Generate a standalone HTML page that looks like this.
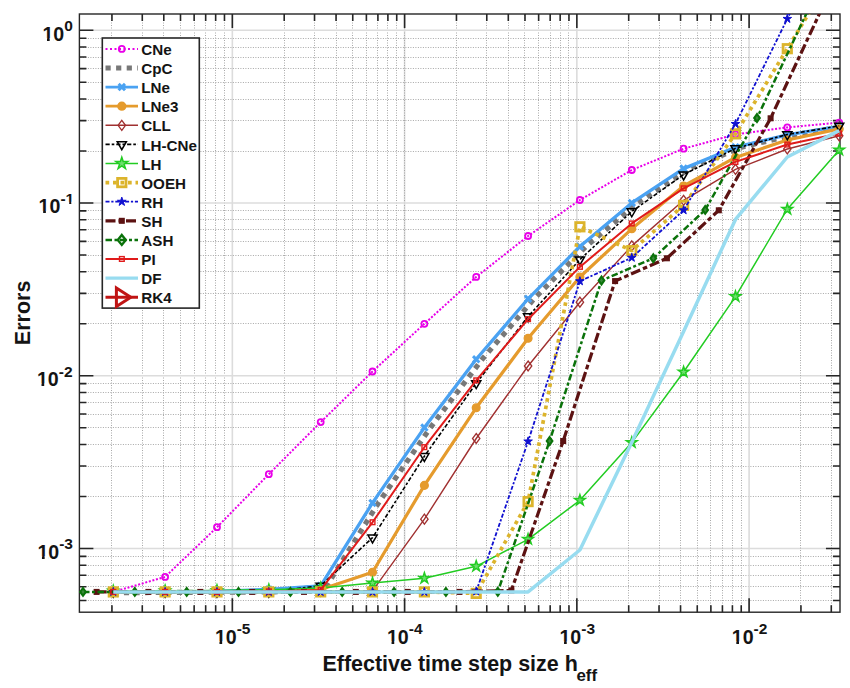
<!DOCTYPE html>
<html><head><meta charset="utf-8"><title>Errors vs effective time step size</title>
<style>
html,body{margin:0;padding:0;background:#fff;}
body{width:850px;height:688px;overflow:hidden;}
svg{display:block;}
text{font-family:"Liberation Sans",sans-serif;font-weight:bold;fill:#141414;}
.tk{font-size:19.6px;}
.sup{font-size:15.5px;}
.lg{font-size:15.2px;}
.al{font-size:21.5px;}
.sub{font-size:15.8px;}
</style></head>
<body>
<svg width="850" height="688" viewBox="0 0 850 688">
<defs><clipPath id="ax"><rect x="79.4" y="14.0" width="760.6" height="598.2"/></clipPath></defs>
<rect width="850" height="688" fill="#fff"/>
<g><line x1="111.50" y1="15.0" x2="111.50" y2="612.2" stroke="#a8a8a8" stroke-width="1" stroke-dasharray="1 1.5"/><line x1="142.50" y1="15.0" x2="142.50" y2="612.2" stroke="#a8a8a8" stroke-width="1" stroke-dasharray="1 1.5"/><line x1="163.50" y1="15.0" x2="163.50" y2="612.2" stroke="#a8a8a8" stroke-width="1" stroke-dasharray="1 1.5"/><line x1="180.50" y1="15.0" x2="180.50" y2="612.2" stroke="#a8a8a8" stroke-width="1" stroke-dasharray="1 1.5"/><line x1="194.50" y1="15.0" x2="194.50" y2="612.2" stroke="#a8a8a8" stroke-width="1" stroke-dasharray="1 1.5"/><line x1="205.50" y1="15.0" x2="205.50" y2="612.2" stroke="#a8a8a8" stroke-width="1" stroke-dasharray="1 1.5"/><line x1="215.50" y1="15.0" x2="215.50" y2="612.2" stroke="#a8a8a8" stroke-width="1" stroke-dasharray="1 1.5"/><line x1="224.50" y1="15.0" x2="224.50" y2="612.2" stroke="#a8a8a8" stroke-width="1" stroke-dasharray="1 1.5"/><line x1="232.35" y1="14.0" x2="232.35" y2="612.2" stroke="#dcdcdc" stroke-width="1.6"/><line x1="284.50" y1="15.0" x2="284.50" y2="612.2" stroke="#a8a8a8" stroke-width="1" stroke-dasharray="1 1.5"/><line x1="314.50" y1="15.0" x2="314.50" y2="612.2" stroke="#a8a8a8" stroke-width="1" stroke-dasharray="1 1.5"/><line x1="336.50" y1="15.0" x2="336.50" y2="612.2" stroke="#a8a8a8" stroke-width="1" stroke-dasharray="1 1.5"/><line x1="352.50" y1="15.0" x2="352.50" y2="612.2" stroke="#a8a8a8" stroke-width="1" stroke-dasharray="1 1.5"/><line x1="366.50" y1="15.0" x2="366.50" y2="612.2" stroke="#a8a8a8" stroke-width="1" stroke-dasharray="1 1.5"/><line x1="377.50" y1="15.0" x2="377.50" y2="612.2" stroke="#a8a8a8" stroke-width="1" stroke-dasharray="1 1.5"/><line x1="387.50" y1="15.0" x2="387.50" y2="612.2" stroke="#a8a8a8" stroke-width="1" stroke-dasharray="1 1.5"/><line x1="396.50" y1="15.0" x2="396.50" y2="612.2" stroke="#a8a8a8" stroke-width="1" stroke-dasharray="1 1.5"/><line x1="404.60" y1="14.0" x2="404.60" y2="612.2" stroke="#dcdcdc" stroke-width="1.6"/><line x1="404.50" y1="15.0" x2="404.50" y2="612.2" stroke="#a8a8a8" stroke-width="1" stroke-dasharray="1 1.5"/><line x1="456.50" y1="15.0" x2="456.50" y2="612.2" stroke="#a8a8a8" stroke-width="1" stroke-dasharray="1 1.5"/><line x1="486.50" y1="15.0" x2="486.50" y2="612.2" stroke="#a8a8a8" stroke-width="1" stroke-dasharray="1 1.5"/><line x1="508.50" y1="15.0" x2="508.50" y2="612.2" stroke="#a8a8a8" stroke-width="1" stroke-dasharray="1 1.5"/><line x1="524.50" y1="15.0" x2="524.50" y2="612.2" stroke="#a8a8a8" stroke-width="1" stroke-dasharray="1 1.5"/><line x1="80.4" y1="600.50" x2="839.95" y2="600.50" stroke="#a8a8a8" stroke-width="1" stroke-dasharray="1 1.5"/><line x1="538.50" y1="15.0" x2="538.50" y2="612.2" stroke="#a8a8a8" stroke-width="1" stroke-dasharray="1 1.5"/><line x1="80.4" y1="586.50" x2="839.95" y2="586.50" stroke="#a8a8a8" stroke-width="1" stroke-dasharray="1 1.5"/><line x1="550.50" y1="15.0" x2="550.50" y2="612.2" stroke="#a8a8a8" stroke-width="1" stroke-dasharray="1 1.5"/><line x1="80.4" y1="575.50" x2="839.95" y2="575.50" stroke="#a8a8a8" stroke-width="1" stroke-dasharray="1 1.5"/><line x1="560.50" y1="15.0" x2="560.50" y2="612.2" stroke="#a8a8a8" stroke-width="1" stroke-dasharray="1 1.5"/><line x1="80.4" y1="565.50" x2="839.95" y2="565.50" stroke="#a8a8a8" stroke-width="1" stroke-dasharray="1 1.5"/><line x1="568.50" y1="15.0" x2="568.50" y2="612.2" stroke="#a8a8a8" stroke-width="1" stroke-dasharray="1 1.5"/><line x1="80.4" y1="556.50" x2="839.95" y2="556.50" stroke="#a8a8a8" stroke-width="1" stroke-dasharray="1 1.5"/><line x1="576.85" y1="14.0" x2="576.85" y2="612.2" stroke="#dcdcdc" stroke-width="1.6"/><line x1="79.4" y1="548.46" x2="839.95" y2="548.46" stroke="#dcdcdc" stroke-width="1.6"/><line x1="628.50" y1="15.0" x2="628.50" y2="612.2" stroke="#a8a8a8" stroke-width="1" stroke-dasharray="1 1.5"/><line x1="80.4" y1="496.50" x2="839.95" y2="496.50" stroke="#a8a8a8" stroke-width="1" stroke-dasharray="1 1.5"/><line x1="659.50" y1="15.0" x2="659.50" y2="612.2" stroke="#a8a8a8" stroke-width="1" stroke-dasharray="1 1.5"/><line x1="80.4" y1="466.50" x2="839.95" y2="466.50" stroke="#a8a8a8" stroke-width="1" stroke-dasharray="1 1.5"/><line x1="680.50" y1="15.0" x2="680.50" y2="612.2" stroke="#a8a8a8" stroke-width="1" stroke-dasharray="1 1.5"/><line x1="80.4" y1="444.50" x2="839.95" y2="444.50" stroke="#a8a8a8" stroke-width="1" stroke-dasharray="1 1.5"/><line x1="697.50" y1="15.0" x2="697.50" y2="612.2" stroke="#a8a8a8" stroke-width="1" stroke-dasharray="1 1.5"/><line x1="80.4" y1="427.50" x2="839.95" y2="427.50" stroke="#a8a8a8" stroke-width="1" stroke-dasharray="1 1.5"/><line x1="710.50" y1="15.0" x2="710.50" y2="612.2" stroke="#a8a8a8" stroke-width="1" stroke-dasharray="1 1.5"/><line x1="80.4" y1="414.50" x2="839.95" y2="414.50" stroke="#a8a8a8" stroke-width="1" stroke-dasharray="1 1.5"/><line x1="722.50" y1="15.0" x2="722.50" y2="612.2" stroke="#a8a8a8" stroke-width="1" stroke-dasharray="1 1.5"/><line x1="80.4" y1="402.50" x2="839.95" y2="402.50" stroke="#a8a8a8" stroke-width="1" stroke-dasharray="1 1.5"/><line x1="732.50" y1="15.0" x2="732.50" y2="612.2" stroke="#a8a8a8" stroke-width="1" stroke-dasharray="1 1.5"/><line x1="80.4" y1="392.50" x2="839.95" y2="392.50" stroke="#a8a8a8" stroke-width="1" stroke-dasharray="1 1.5"/><line x1="741.50" y1="15.0" x2="741.50" y2="612.2" stroke="#a8a8a8" stroke-width="1" stroke-dasharray="1 1.5"/><line x1="80.4" y1="383.50" x2="839.95" y2="383.50" stroke="#a8a8a8" stroke-width="1" stroke-dasharray="1 1.5"/><line x1="749.10" y1="14.0" x2="749.10" y2="612.2" stroke="#dcdcdc" stroke-width="1.6"/><line x1="79.4" y1="375.74" x2="839.95" y2="375.74" stroke="#dcdcdc" stroke-width="1.6"/><line x1="800.50" y1="15.0" x2="800.50" y2="612.2" stroke="#a8a8a8" stroke-width="1" stroke-dasharray="1 1.5"/><line x1="80.4" y1="323.50" x2="839.95" y2="323.50" stroke="#a8a8a8" stroke-width="1" stroke-dasharray="1 1.5"/><line x1="831.50" y1="15.0" x2="831.50" y2="612.2" stroke="#a8a8a8" stroke-width="1" stroke-dasharray="1 1.5"/><line x1="80.4" y1="293.50" x2="839.95" y2="293.50" stroke="#a8a8a8" stroke-width="1" stroke-dasharray="1 1.5"/><line x1="80.4" y1="271.50" x2="839.95" y2="271.50" stroke="#a8a8a8" stroke-width="1" stroke-dasharray="1 1.5"/><line x1="80.4" y1="255.50" x2="839.95" y2="255.50" stroke="#a8a8a8" stroke-width="1" stroke-dasharray="1 1.5"/><line x1="80.4" y1="241.50" x2="839.95" y2="241.50" stroke="#a8a8a8" stroke-width="1" stroke-dasharray="1 1.5"/><line x1="80.4" y1="229.50" x2="839.95" y2="229.50" stroke="#a8a8a8" stroke-width="1" stroke-dasharray="1 1.5"/><line x1="80.4" y1="219.50" x2="839.95" y2="219.50" stroke="#a8a8a8" stroke-width="1" stroke-dasharray="1 1.5"/><line x1="80.4" y1="210.50" x2="839.95" y2="210.50" stroke="#a8a8a8" stroke-width="1" stroke-dasharray="1 1.5"/><line x1="79.4" y1="203.02" x2="839.95" y2="203.02" stroke="#dcdcdc" stroke-width="1.6"/><line x1="80.4" y1="151.50" x2="839.95" y2="151.50" stroke="#a8a8a8" stroke-width="1" stroke-dasharray="1 1.5"/><line x1="80.4" y1="120.50" x2="839.95" y2="120.50" stroke="#a8a8a8" stroke-width="1" stroke-dasharray="1 1.5"/><line x1="80.4" y1="99.50" x2="839.95" y2="99.50" stroke="#a8a8a8" stroke-width="1" stroke-dasharray="1 1.5"/><line x1="80.4" y1="82.50" x2="839.95" y2="82.50" stroke="#a8a8a8" stroke-width="1" stroke-dasharray="1 1.5"/><line x1="80.4" y1="68.50" x2="839.95" y2="68.50" stroke="#a8a8a8" stroke-width="1" stroke-dasharray="1 1.5"/><line x1="80.4" y1="57.50" x2="839.95" y2="57.50" stroke="#a8a8a8" stroke-width="1" stroke-dasharray="1 1.5"/><line x1="80.4" y1="47.50" x2="839.95" y2="47.50" stroke="#a8a8a8" stroke-width="1" stroke-dasharray="1 1.5"/><line x1="80.4" y1="38.50" x2="839.95" y2="38.50" stroke="#a8a8a8" stroke-width="1" stroke-dasharray="1 1.5"/><line x1="79.4" y1="30.30" x2="839.95" y2="30.30" stroke="#dcdcdc" stroke-width="1.6"/></g>
<path d="M111.95 612.2V605.2M111.95 14.0V21.0M142.28 612.2V605.2M142.28 14.0V21.0M163.80 612.2V605.2M163.80 14.0V21.0M180.50 612.2V605.2M180.50 14.0V21.0M194.14 612.2V605.2M194.14 14.0V21.0M205.67 612.2V605.2M205.67 14.0V21.0M215.66 612.2V605.2M215.66 14.0V21.0M224.47 612.2V605.2M224.47 14.0V21.0M232.35 612.2V598.2M232.35 14.0V28.0M284.20 612.2V605.2M284.20 14.0V21.0M314.53 612.2V605.2M314.53 14.0V21.0M336.05 612.2V605.2M336.05 14.0V21.0M352.75 612.2V605.2M352.75 14.0V21.0M366.39 612.2V605.2M366.39 14.0V21.0M377.92 612.2V605.2M377.92 14.0V21.0M387.91 612.2V605.2M387.91 14.0V21.0M396.72 612.2V605.2M396.72 14.0V21.0M404.60 612.2V598.2M404.60 14.0V28.0M456.45 612.2V605.2M456.45 14.0V21.0M486.78 612.2V605.2M486.78 14.0V21.0M508.30 612.2V605.2M508.30 14.0V21.0M525.00 612.2V605.2M525.00 14.0V21.0M79.4 600.45H86.4M839.95 600.45H832.95M538.64 612.2V605.2M538.64 14.0V21.0M79.4 586.78H86.4M839.95 586.78H832.95M550.17 612.2V605.2M550.17 14.0V21.0M79.4 575.21H86.4M839.95 575.21H832.95M560.16 612.2V605.2M560.16 14.0V21.0M79.4 565.20H86.4M839.95 565.20H832.95M568.97 612.2V605.2M568.97 14.0V21.0M79.4 556.36H86.4M839.95 556.36H832.95M576.85 612.2V598.2M576.85 14.0V28.0M79.4 548.46H93.4M839.95 548.46H825.95M628.70 612.2V605.2M628.70 14.0V21.0M79.4 496.47H86.4M839.95 496.47H832.95M659.03 612.2V605.2M659.03 14.0V21.0M79.4 466.05H86.4M839.95 466.05H832.95M680.55 612.2V605.2M680.55 14.0V21.0M79.4 444.47H86.4M839.95 444.47H832.95M697.25 612.2V605.2M697.25 14.0V21.0M79.4 427.73H86.4M839.95 427.73H832.95M710.89 612.2V605.2M710.89 14.0V21.0M79.4 414.06H86.4M839.95 414.06H832.95M722.42 612.2V605.2M722.42 14.0V21.0M79.4 402.49H86.4M839.95 402.49H832.95M732.41 612.2V605.2M732.41 14.0V21.0M79.4 392.48H86.4M839.95 392.48H832.95M741.22 612.2V605.2M741.22 14.0V21.0M79.4 383.64H86.4M839.95 383.64H832.95M749.10 612.2V598.2M749.10 14.0V28.0M79.4 375.74H93.4M839.95 375.74H825.95M800.95 612.2V605.2M800.95 14.0V21.0M79.4 323.75H86.4M839.95 323.75H832.95M831.28 612.2V605.2M831.28 14.0V21.0M79.4 293.33H86.4M839.95 293.33H832.95M79.4 271.75H86.4M839.95 271.75H832.95M79.4 255.01H86.4M839.95 255.01H832.95M79.4 241.34H86.4M839.95 241.34H832.95M79.4 229.77H86.4M839.95 229.77H832.95M79.4 219.76H86.4M839.95 219.76H832.95M79.4 210.92H86.4M839.95 210.92H832.95M79.4 203.02H93.4M839.95 203.02H825.95M79.4 151.03H86.4M839.95 151.03H832.95M79.4 120.61H86.4M839.95 120.61H832.95M79.4 99.03H86.4M839.95 99.03H832.95M79.4 82.29H86.4M839.95 82.29H832.95M79.4 68.62H86.4M839.95 68.62H832.95M79.4 57.05H86.4M839.95 57.05H832.95M79.4 47.04H86.4M839.95 47.04H832.95M79.4 38.20H86.4M839.95 38.20H832.95M79.4 30.30H93.4M839.95 30.30H825.95" stroke="#262626" stroke-width="1.6" fill="none"/>
<rect x="79.4" y="14.0" width="760.6" height="598.2" fill="none" stroke="#262626" stroke-width="1.4"/>
<g><polyline points="113.3,591.9 165.1,576.9 217.0,527.2 268.8,474.2 320.7,422.1 372.5,371.5 424.4,323.8 476.2,276.9 528.1,236.0 579.9,200.0 631.8,170.0 683.6,148.7 735.5,134.4 787.3,127.4 839.2,122.6" fill="none" stroke="#e800e8" stroke-width="2.0" stroke-dasharray="2 1.7" stroke-linejoin="round" clip-path="url(#ax)"/><circle cx="113.3" cy="591.9" r="3.0" fill="none" stroke="#e800e8" stroke-width="1.8"/><circle cx="165.1" cy="576.9" r="3.0" fill="none" stroke="#e800e8" stroke-width="1.8"/><circle cx="217.0" cy="527.2" r="3.0" fill="none" stroke="#e800e8" stroke-width="1.8"/><circle cx="268.8" cy="474.2" r="3.0" fill="none" stroke="#e800e8" stroke-width="1.8"/><circle cx="320.7" cy="422.1" r="3.0" fill="none" stroke="#e800e8" stroke-width="1.8"/><circle cx="372.5" cy="371.5" r="3.0" fill="none" stroke="#e800e8" stroke-width="1.8"/><circle cx="424.4" cy="323.8" r="3.0" fill="none" stroke="#e800e8" stroke-width="1.8"/><circle cx="476.2" cy="276.9" r="3.0" fill="none" stroke="#e800e8" stroke-width="1.8"/><circle cx="528.1" cy="236.0" r="3.0" fill="none" stroke="#e800e8" stroke-width="1.8"/><circle cx="579.9" cy="200.0" r="3.0" fill="none" stroke="#e800e8" stroke-width="1.8"/><circle cx="631.8" cy="170.0" r="3.0" fill="none" stroke="#e800e8" stroke-width="1.8"/><circle cx="683.6" cy="148.7" r="3.0" fill="none" stroke="#e800e8" stroke-width="1.8"/><circle cx="735.5" cy="134.4" r="3.0" fill="none" stroke="#e800e8" stroke-width="1.8"/><circle cx="787.3" cy="127.4" r="3.0" fill="none" stroke="#e800e8" stroke-width="1.8"/><circle cx="839.2" cy="122.6" r="3.0" fill="none" stroke="#e800e8" stroke-width="1.8"/><polyline points="113.3,592.7 274.8,591.9 326.7,585.8 378.5,502.9 430.4,427.6 482.2,359.3 534.1,298.8 585.9,246.5 637.8,202.9 689.6,168.6 741.5,147.2 793.3,134.9 845.2,126.4" fill="none" stroke="#787878" stroke-width="5.2" stroke-dasharray="5.2 5.4" stroke-linejoin="round" clip-path="url(#ax)"/><polyline points="113.3,591.9 165.1,591.9 217.0,591.4 268.8,589.4 320.7,585.8 372.5,502.9 424.4,427.6 476.2,359.3 528.1,298.8 579.9,246.5 631.8,202.9 683.6,168.6 735.5,147.2 787.3,134.9 839.2,126.4" fill="none" stroke="#4aa2f2" stroke-width="3.3" stroke-linejoin="round" clip-path="url(#ax)"/><path d="M110.1 588.7L116.5 595.1M110.1 595.1L116.5 588.7" stroke="#4aa2f2" stroke-width="3" fill="none"/><path d="M161.9 588.7L168.3 595.1M161.9 595.1L168.3 588.7" stroke="#4aa2f2" stroke-width="3" fill="none"/><path d="M213.8 588.2L220.2 594.6M213.8 594.6L220.2 588.2" stroke="#4aa2f2" stroke-width="3" fill="none"/><path d="M265.6 586.2L272.0 592.6M265.6 592.6L272.0 586.2" stroke="#4aa2f2" stroke-width="3" fill="none"/><path d="M317.5 582.6L323.9 589.0M317.5 589.0L323.9 582.6" stroke="#4aa2f2" stroke-width="3" fill="none"/><path d="M369.3 499.7L375.7 506.1M369.3 506.1L375.7 499.7" stroke="#4aa2f2" stroke-width="3" fill="none"/><path d="M421.2 424.4L427.6 430.8M421.2 430.8L427.6 424.4" stroke="#4aa2f2" stroke-width="3" fill="none"/><path d="M473.0 356.1L479.4 362.5M473.0 362.5L479.4 356.1" stroke="#4aa2f2" stroke-width="3" fill="none"/><path d="M524.9 295.6L531.3 302.0M524.9 302.0L531.3 295.6" stroke="#4aa2f2" stroke-width="3" fill="none"/><path d="M576.7 243.3L583.1 249.7M576.7 249.7L583.1 243.3" stroke="#4aa2f2" stroke-width="3" fill="none"/><path d="M628.6 199.7L635.0 206.1M628.6 206.1L635.0 199.7" stroke="#4aa2f2" stroke-width="3" fill="none"/><path d="M680.4 165.4L686.8 171.8M680.4 171.8L686.8 165.4" stroke="#4aa2f2" stroke-width="3" fill="none"/><path d="M732.3 144.0L738.7 150.4M732.3 150.4L738.7 144.0" stroke="#4aa2f2" stroke-width="3" fill="none"/><path d="M784.1 131.7L790.5 138.1M784.1 138.1L790.5 131.7" stroke="#4aa2f2" stroke-width="3" fill="none"/><path d="M836.0 123.2L842.4 129.6M836.0 129.6L842.4 123.2" stroke="#4aa2f2" stroke-width="3" fill="none"/><polyline points="113.3,591.9 165.1,591.9 217.0,591.9 268.8,591.9 320.7,589.4 372.5,572.2 424.4,485.4 476.2,407.8 528.1,338.3 579.9,277.0 631.8,228.8 683.6,186.0 735.5,157.4 787.3,140.0 839.2,128.9" fill="none" stroke="#e59b2d" stroke-width="3.2" stroke-linejoin="round" clip-path="url(#ax)"/><circle cx="113.3" cy="591.9" r="3.9" fill="#e59b2d" stroke="#e59b2d" stroke-width="1.3"/><circle cx="165.1" cy="591.9" r="3.9" fill="#e59b2d" stroke="#e59b2d" stroke-width="1.3"/><circle cx="217.0" cy="591.9" r="3.9" fill="#e59b2d" stroke="#e59b2d" stroke-width="1.3"/><circle cx="268.8" cy="591.9" r="3.9" fill="#e59b2d" stroke="#e59b2d" stroke-width="1.3"/><circle cx="320.7" cy="589.4" r="3.9" fill="#e59b2d" stroke="#e59b2d" stroke-width="1.3"/><circle cx="372.5" cy="572.2" r="3.9" fill="#e59b2d" stroke="#e59b2d" stroke-width="1.3"/><circle cx="424.4" cy="485.4" r="3.9" fill="#e59b2d" stroke="#e59b2d" stroke-width="1.3"/><circle cx="476.2" cy="407.8" r="3.9" fill="#e59b2d" stroke="#e59b2d" stroke-width="1.3"/><circle cx="528.1" cy="338.3" r="3.9" fill="#e59b2d" stroke="#e59b2d" stroke-width="1.3"/><circle cx="579.9" cy="277.0" r="3.9" fill="#e59b2d" stroke="#e59b2d" stroke-width="1.3"/><circle cx="631.8" cy="228.8" r="3.9" fill="#e59b2d" stroke="#e59b2d" stroke-width="1.3"/><circle cx="683.6" cy="186.0" r="3.9" fill="#e59b2d" stroke="#e59b2d" stroke-width="1.3"/><circle cx="735.5" cy="157.4" r="3.9" fill="#e59b2d" stroke="#e59b2d" stroke-width="1.3"/><circle cx="787.3" cy="140.0" r="3.9" fill="#e59b2d" stroke="#e59b2d" stroke-width="1.3"/><circle cx="839.2" cy="128.9" r="3.9" fill="#e59b2d" stroke="#e59b2d" stroke-width="1.3"/><polyline points="113.3,591.9 165.1,591.9 217.0,591.9 268.8,591.9 320.7,591.4 372.5,590.9 424.4,519.2 476.2,438.5 528.1,366.0 579.9,302.2 631.8,245.9 683.6,200.3 735.5,169.3 787.3,149.0 839.2,135.8" fill="none" stroke="#a03030" stroke-width="1.4" stroke-linejoin="round" clip-path="url(#ax)"/><path d="M113.3 586.9L117.0 591.9L113.3 596.9L109.6 591.9Z" stroke="#a03030" stroke-width="1.3" fill="none"/><path d="M165.1 586.9L168.8 591.9L165.1 596.9L161.4 591.9Z" stroke="#a03030" stroke-width="1.3" fill="none"/><path d="M217.0 586.9L220.7 591.9L217.0 596.9L213.3 591.9Z" stroke="#a03030" stroke-width="1.3" fill="none"/><path d="M268.8 586.9L272.5 591.9L268.8 596.9L265.1 591.9Z" stroke="#a03030" stroke-width="1.3" fill="none"/><path d="M320.7 586.4L324.4 591.4L320.7 596.4L317.0 591.4Z" stroke="#a03030" stroke-width="1.3" fill="none"/><path d="M372.5 585.9L376.2 590.9L372.5 595.9L368.8 590.9Z" stroke="#a03030" stroke-width="1.3" fill="none"/><path d="M424.4 514.2L428.1 519.2L424.4 524.2L420.7 519.2Z" stroke="#a03030" stroke-width="1.3" fill="none"/><path d="M476.2 433.5L479.9 438.5L476.2 443.5L472.5 438.5Z" stroke="#a03030" stroke-width="1.3" fill="none"/><path d="M528.1 361.0L531.8 366.0L528.1 371.0L524.4 366.0Z" stroke="#a03030" stroke-width="1.3" fill="none"/><path d="M579.9 297.2L583.6 302.2L579.9 307.2L576.2 302.2Z" stroke="#a03030" stroke-width="1.3" fill="none"/><path d="M631.8 240.9L635.5 245.9L631.8 250.9L628.1 245.9Z" stroke="#a03030" stroke-width="1.3" fill="none"/><path d="M683.6 195.3L687.3 200.3L683.6 205.3L679.9 200.3Z" stroke="#a03030" stroke-width="1.3" fill="none"/><path d="M735.5 164.3L739.2 169.3L735.5 174.3L731.8 169.3Z" stroke="#a03030" stroke-width="1.3" fill="none"/><path d="M787.3 144.0L791.0 149.0L787.3 154.0L783.6 149.0Z" stroke="#a03030" stroke-width="1.3" fill="none"/><path d="M839.2 130.8L842.9 135.8L839.2 140.8L835.5 135.8Z" stroke="#a03030" stroke-width="1.3" fill="none"/><polyline points="113.3,591.9 165.1,591.9 217.0,591.9 268.8,591.9 320.7,585.8 372.5,537.7 424.4,456.2 476.2,383.3 528.1,316.5 579.9,259.6 631.8,211.5 683.6,174.6 735.5,148.4 787.3,134.5 839.2,125.9" fill="none" stroke="#000000" stroke-width="1.6" stroke-dasharray="4.2 2 2.6 2" stroke-linejoin="round" clip-path="url(#ax)"/><path d="M108.67 589.25L117.87 589.25L113.27 597.20Z" stroke="#000000" stroke-width="1.5" fill="none" stroke-linejoin="miter"/><path d="M160.52 589.25L169.72 589.25L165.12 597.20Z" stroke="#000000" stroke-width="1.5" fill="none" stroke-linejoin="miter"/><path d="M212.37 589.25L221.57 589.25L216.97 597.20Z" stroke="#000000" stroke-width="1.5" fill="none" stroke-linejoin="miter"/><path d="M264.22 589.25L273.42 589.25L268.82 597.20Z" stroke="#000000" stroke-width="1.5" fill="none" stroke-linejoin="miter"/><path d="M316.07 583.15L325.27 583.15L320.67 591.10Z" stroke="#000000" stroke-width="1.5" fill="none" stroke-linejoin="miter"/><path d="M367.92 535.05L377.12 535.05L372.52 543.00Z" stroke="#000000" stroke-width="1.5" fill="none" stroke-linejoin="miter"/><path d="M419.77 453.55L428.97 453.55L424.37 461.50Z" stroke="#000000" stroke-width="1.5" fill="none" stroke-linejoin="miter"/><path d="M471.62 380.65L480.82 380.65L476.22 388.60Z" stroke="#000000" stroke-width="1.5" fill="none" stroke-linejoin="miter"/><path d="M523.47 313.85L532.67 313.85L528.07 321.80Z" stroke="#000000" stroke-width="1.5" fill="none" stroke-linejoin="miter"/><path d="M575.32 256.95L584.52 256.95L579.92 264.90Z" stroke="#000000" stroke-width="1.5" fill="none" stroke-linejoin="miter"/><path d="M627.17 208.85L636.37 208.85L631.77 216.80Z" stroke="#000000" stroke-width="1.5" fill="none" stroke-linejoin="miter"/><path d="M679.02 171.95L688.22 171.95L683.62 179.90Z" stroke="#000000" stroke-width="1.5" fill="none" stroke-linejoin="miter"/><path d="M730.87 145.75L740.07 145.75L735.47 153.70Z" stroke="#000000" stroke-width="1.5" fill="none" stroke-linejoin="miter"/><path d="M782.72 131.85L791.92 131.85L787.32 139.80Z" stroke="#000000" stroke-width="1.5" fill="none" stroke-linejoin="miter"/><path d="M834.57 123.25L843.77 123.25L839.17 131.20Z" stroke="#000000" stroke-width="1.5" fill="none" stroke-linejoin="miter"/><polyline points="113.3,590.9 165.1,590.7 217.0,590.4 268.8,589.7 320.7,587.9 372.5,583.0 424.4,578.2 476.2,566.3 528.1,539.3 579.9,500.3 631.8,442.6 683.6,372.0 735.5,296.6 787.3,209.2 839.2,150.0" fill="none" stroke="#22cc22" stroke-width="1.5" stroke-linejoin="round" clip-path="url(#ax)"/><path d="M113.27 585.30L114.53 589.17L118.60 589.17L115.30 591.56L116.56 595.43L113.27 593.04L109.98 595.43L111.24 591.56L107.94 589.17L112.01 589.17Z" stroke="#22cc22" stroke-width="1.5" fill="#6ede6e" stroke-linejoin="miter"/><path d="M165.12 585.10L166.38 588.97L170.45 588.97L167.15 591.36L168.41 595.23L165.12 592.84L161.83 595.23L163.09 591.36L159.79 588.97L163.86 588.97Z" stroke="#22cc22" stroke-width="1.5" fill="#6ede6e" stroke-linejoin="miter"/><path d="M216.97 584.80L218.23 588.67L222.30 588.67L219.00 591.06L220.26 594.93L216.97 592.54L213.68 594.93L214.94 591.06L211.64 588.67L215.71 588.67Z" stroke="#22cc22" stroke-width="1.5" fill="#6ede6e" stroke-linejoin="miter"/><path d="M268.82 584.10L270.08 587.97L274.15 587.97L270.85 590.36L272.11 594.23L268.82 591.84L265.53 594.23L266.79 590.36L263.49 587.97L267.56 587.97Z" stroke="#22cc22" stroke-width="1.5" fill="#6ede6e" stroke-linejoin="miter"/><path d="M320.67 582.30L321.93 586.17L326.00 586.17L322.70 588.56L323.96 592.43L320.67 590.04L317.38 592.43L318.64 588.56L315.34 586.17L319.41 586.17Z" stroke="#22cc22" stroke-width="1.5" fill="#6ede6e" stroke-linejoin="miter"/><path d="M372.52 577.40L373.78 581.27L377.85 581.27L374.55 583.66L375.81 587.53L372.52 585.14L369.23 587.53L370.49 583.66L367.19 581.27L371.26 581.27Z" stroke="#22cc22" stroke-width="1.5" fill="#6ede6e" stroke-linejoin="miter"/><path d="M424.37 572.60L425.63 576.47L429.70 576.47L426.40 578.86L427.66 582.73L424.37 580.34L421.08 582.73L422.34 578.86L419.04 576.47L423.11 576.47Z" stroke="#22cc22" stroke-width="1.5" fill="#6ede6e" stroke-linejoin="miter"/><path d="M476.22 560.70L477.48 564.57L481.55 564.57L478.25 566.96L479.51 570.83L476.22 568.44L472.93 570.83L474.19 566.96L470.89 564.57L474.96 564.57Z" stroke="#22cc22" stroke-width="1.5" fill="#6ede6e" stroke-linejoin="miter"/><path d="M528.07 533.70L529.33 537.57L533.40 537.57L530.10 539.96L531.36 543.83L528.07 541.44L524.78 543.83L526.04 539.96L522.74 537.57L526.81 537.57Z" stroke="#22cc22" stroke-width="1.5" fill="#6ede6e" stroke-linejoin="miter"/><path d="M579.92 494.70L581.18 498.57L585.25 498.57L581.95 500.96L583.21 504.83L579.92 502.44L576.63 504.83L577.89 500.96L574.59 498.57L578.66 498.57Z" stroke="#22cc22" stroke-width="1.5" fill="#6ede6e" stroke-linejoin="miter"/><path d="M631.77 437.00L633.03 440.87L637.10 440.87L633.80 443.26L635.06 447.13L631.77 444.74L628.48 447.13L629.74 443.26L626.44 440.87L630.51 440.87Z" stroke="#22cc22" stroke-width="1.5" fill="#6ede6e" stroke-linejoin="miter"/><path d="M683.62 366.40L684.88 370.27L688.95 370.27L685.65 372.66L686.91 376.53L683.62 374.14L680.33 376.53L681.59 372.66L678.29 370.27L682.36 370.27Z" stroke="#22cc22" stroke-width="1.5" fill="#6ede6e" stroke-linejoin="miter"/><path d="M735.47 291.00L736.73 294.87L740.80 294.87L737.50 297.26L738.76 301.13L735.47 298.74L732.18 301.13L733.44 297.26L730.14 294.87L734.21 294.87Z" stroke="#22cc22" stroke-width="1.5" fill="#6ede6e" stroke-linejoin="miter"/><path d="M787.32 203.60L788.58 207.47L792.65 207.47L789.35 209.86L790.61 213.73L787.32 211.34L784.03 213.73L785.29 209.86L781.99 207.47L786.06 207.47Z" stroke="#22cc22" stroke-width="1.5" fill="#6ede6e" stroke-linejoin="miter"/><path d="M839.17 144.40L840.43 148.27L844.50 148.27L841.20 150.66L842.46 154.53L839.17 152.14L835.88 154.53L837.14 150.66L833.84 148.27L837.91 148.27Z" stroke="#22cc22" stroke-width="1.5" fill="#6ede6e" stroke-linejoin="miter"/><polyline points="113.3,591.9 165.1,591.9 217.0,591.9 268.8,591.9 320.7,591.9 372.5,591.9 424.4,591.9 476.2,593.4 528.1,501.6 579.9,226.8 631.8,250.6 683.6,205.4 735.5,133.9 787.3,48.7 839.2,-36.5" fill="none" stroke="#dcb42c" stroke-width="3.7" stroke-dasharray="3.7 3.8" stroke-linejoin="round" clip-path="url(#ax)"/><rect x="109.1" y="587.7" width="8.4" height="8.4" stroke="#dcb42c" stroke-width="2.8" fill="none"/><rect x="160.9" y="587.7" width="8.4" height="8.4" stroke="#dcb42c" stroke-width="2.8" fill="none"/><rect x="212.8" y="587.7" width="8.4" height="8.4" stroke="#dcb42c" stroke-width="2.8" fill="none"/><rect x="264.6" y="587.7" width="8.4" height="8.4" stroke="#dcb42c" stroke-width="2.8" fill="none"/><rect x="316.5" y="587.7" width="8.4" height="8.4" stroke="#dcb42c" stroke-width="2.8" fill="none"/><rect x="368.3" y="587.7" width="8.4" height="8.4" stroke="#dcb42c" stroke-width="2.8" fill="none"/><rect x="420.2" y="587.7" width="8.4" height="8.4" stroke="#dcb42c" stroke-width="2.8" fill="none"/><rect x="472.0" y="589.2" width="8.4" height="8.4" stroke="#dcb42c" stroke-width="2.8" fill="none"/><rect x="523.9" y="497.4" width="8.4" height="8.4" stroke="#dcb42c" stroke-width="2.8" fill="none"/><rect x="575.7" y="222.6" width="8.4" height="8.4" stroke="#dcb42c" stroke-width="2.8" fill="none"/><rect x="627.6" y="246.4" width="8.4" height="8.4" stroke="#dcb42c" stroke-width="2.8" fill="none"/><rect x="679.4" y="201.2" width="8.4" height="8.4" stroke="#dcb42c" stroke-width="2.8" fill="none"/><rect x="731.3" y="129.7" width="8.4" height="8.4" stroke="#dcb42c" stroke-width="2.8" fill="none"/><rect x="783.1" y="44.5" width="8.4" height="8.4" stroke="#dcb42c" stroke-width="2.8" fill="none"/><polyline points="113.3,591.9 165.1,591.9 217.0,591.9 268.8,591.9 320.7,591.9 372.5,591.9 424.4,591.9 476.2,591.4 528.1,441.4 579.9,281.2 631.8,257.7 683.6,210.2 735.5,123.9 787.3,18.8 839.2,-85.6" fill="none" stroke="#1010d0" stroke-width="1.8" stroke-dasharray="4 1.8 2.2 1.8" stroke-linejoin="round" clip-path="url(#ax)"/><path d="M113.27 587.40L114.28 590.51L117.55 590.51L114.90 592.43L115.92 595.54L113.27 593.62L110.62 595.54L111.64 592.43L108.99 590.51L112.26 590.51Z" stroke="#1010d0" stroke-width="1" fill="#1010d0" stroke-linejoin="miter"/><path d="M165.12 587.40L166.13 590.51L169.40 590.51L166.75 592.43L167.77 595.54L165.12 593.62L162.47 595.54L163.49 592.43L160.84 590.51L164.11 590.51Z" stroke="#1010d0" stroke-width="1" fill="#1010d0" stroke-linejoin="miter"/><path d="M216.97 587.40L217.98 590.51L221.25 590.51L218.60 592.43L219.62 595.54L216.97 593.62L214.32 595.54L215.34 592.43L212.69 590.51L215.96 590.51Z" stroke="#1010d0" stroke-width="1" fill="#1010d0" stroke-linejoin="miter"/><path d="M268.82 587.40L269.83 590.51L273.10 590.51L270.45 592.43L271.47 595.54L268.82 593.62L266.17 595.54L267.19 592.43L264.54 590.51L267.81 590.51Z" stroke="#1010d0" stroke-width="1" fill="#1010d0" stroke-linejoin="miter"/><path d="M320.67 587.40L321.68 590.51L324.95 590.51L322.30 592.43L323.32 595.54L320.67 593.62L318.02 595.54L319.04 592.43L316.39 590.51L319.66 590.51Z" stroke="#1010d0" stroke-width="1" fill="#1010d0" stroke-linejoin="miter"/><path d="M372.52 587.40L373.53 590.51L376.80 590.51L374.15 592.43L375.17 595.54L372.52 593.62L369.87 595.54L370.89 592.43L368.24 590.51L371.51 590.51Z" stroke="#1010d0" stroke-width="1" fill="#1010d0" stroke-linejoin="miter"/><path d="M424.37 587.40L425.38 590.51L428.65 590.51L426.00 592.43L427.02 595.54L424.37 593.62L421.72 595.54L422.74 592.43L420.09 590.51L423.36 590.51Z" stroke="#1010d0" stroke-width="1" fill="#1010d0" stroke-linejoin="miter"/><path d="M476.22 586.90L477.23 590.01L480.50 590.01L477.85 591.93L478.87 595.04L476.22 593.12L473.57 595.04L474.59 591.93L471.94 590.01L475.21 590.01Z" stroke="#1010d0" stroke-width="1" fill="#1010d0" stroke-linejoin="miter"/><path d="M528.07 436.90L529.08 440.01L532.35 440.01L529.70 441.93L530.72 445.04L528.07 443.12L525.42 445.04L526.44 441.93L523.79 440.01L527.06 440.01Z" stroke="#1010d0" stroke-width="1" fill="#1010d0" stroke-linejoin="miter"/><path d="M579.92 276.70L580.93 279.81L584.20 279.81L581.55 281.73L582.57 284.84L579.92 282.92L577.27 284.84L578.29 281.73L575.64 279.81L578.91 279.81Z" stroke="#1010d0" stroke-width="1" fill="#1010d0" stroke-linejoin="miter"/><path d="M631.77 253.20L632.78 256.31L636.05 256.31L633.40 258.23L634.42 261.34L631.77 259.42L629.12 261.34L630.14 258.23L627.49 256.31L630.76 256.31Z" stroke="#1010d0" stroke-width="1" fill="#1010d0" stroke-linejoin="miter"/><path d="M683.62 205.70L684.63 208.81L687.90 208.81L685.25 210.73L686.27 213.84L683.62 211.92L680.97 213.84L681.99 210.73L679.34 208.81L682.61 208.81Z" stroke="#1010d0" stroke-width="1" fill="#1010d0" stroke-linejoin="miter"/><path d="M735.47 119.40L736.48 122.51L739.75 122.51L737.10 124.43L738.12 127.54L735.47 125.62L732.82 127.54L733.84 124.43L731.19 122.51L734.46 122.51Z" stroke="#1010d0" stroke-width="1" fill="#1010d0" stroke-linejoin="miter"/><path d="M787.32 14.30L788.33 17.41L791.60 17.41L788.95 19.33L789.97 22.44L787.32 20.52L784.67 22.44L785.69 19.33L783.04 17.41L786.31 17.41Z" stroke="#1010d0" stroke-width="1" fill="#1010d0" stroke-linejoin="miter"/><polyline points="96.6,591.9 148.4,591.9 200.3,591.9 252.1,591.9 304.0,591.9 355.8,591.9 407.7,591.9 459.5,591.9 511.4,590.4 563.2,441.0 615.1,281.1 666.9,258.3 718.8,210.3 770.6,118.3 822.5,7.2" fill="none" stroke="#5c1212" stroke-width="3.2" stroke-dasharray="10 3 4.5 3" stroke-linejoin="round" clip-path="url(#ax)"/><rect x="94.2" y="589.5" width="4.8" height="4.8" stroke="#5c1212" stroke-width="1.2" fill="#5c1212"/><rect x="146.0" y="589.5" width="4.8" height="4.8" stroke="#5c1212" stroke-width="1.2" fill="#5c1212"/><rect x="197.9" y="589.5" width="4.8" height="4.8" stroke="#5c1212" stroke-width="1.2" fill="#5c1212"/><rect x="249.7" y="589.5" width="4.8" height="4.8" stroke="#5c1212" stroke-width="1.2" fill="#5c1212"/><rect x="301.6" y="589.5" width="4.8" height="4.8" stroke="#5c1212" stroke-width="1.2" fill="#5c1212"/><rect x="353.4" y="589.5" width="4.8" height="4.8" stroke="#5c1212" stroke-width="1.2" fill="#5c1212"/><rect x="405.3" y="589.5" width="4.8" height="4.8" stroke="#5c1212" stroke-width="1.2" fill="#5c1212"/><rect x="457.1" y="589.5" width="4.8" height="4.8" stroke="#5c1212" stroke-width="1.2" fill="#5c1212"/><rect x="509.0" y="588.0" width="4.8" height="4.8" stroke="#5c1212" stroke-width="1.2" fill="#5c1212"/><rect x="560.8" y="438.6" width="4.8" height="4.8" stroke="#5c1212" stroke-width="1.2" fill="#5c1212"/><rect x="612.7" y="278.7" width="4.8" height="4.8" stroke="#5c1212" stroke-width="1.2" fill="#5c1212"/><rect x="664.5" y="255.9" width="4.8" height="4.8" stroke="#5c1212" stroke-width="1.2" fill="#5c1212"/><rect x="716.4" y="207.9" width="4.8" height="4.8" stroke="#5c1212" stroke-width="1.2" fill="#5c1212"/><rect x="768.2" y="115.9" width="4.8" height="4.8" stroke="#5c1212" stroke-width="1.2" fill="#5c1212"/><polyline points="83.0,591.9 134.8,591.9 186.7,591.9 238.5,591.9 290.4,591.9 342.2,591.9 394.1,591.9 445.9,591.9 497.8,591.8 549.6,441.0 601.5,280.5 653.3,258.3 705.2,209.9 757.0,118.0 808.9,8.3" fill="none" stroke="#0a720a" stroke-width="2.5" stroke-dasharray="6.5 2.5 3 2.5" stroke-linejoin="round" clip-path="url(#ax)"/><path d="M83.0 588.0L85.8 591.9L83.0 595.8L80.2 591.9Z" stroke="#0a720a" stroke-width="2.1" fill="#3a8a3a"/><path d="M134.8 588.0L137.6 591.9L134.8 595.8L132.0 591.9Z" stroke="#0a720a" stroke-width="2.1" fill="#3a8a3a"/><path d="M186.7 588.0L189.5 591.9L186.7 595.8L183.9 591.9Z" stroke="#0a720a" stroke-width="2.1" fill="#3a8a3a"/><path d="M238.5 588.0L241.3 591.9L238.5 595.8L235.7 591.9Z" stroke="#0a720a" stroke-width="2.1" fill="#3a8a3a"/><path d="M290.4 588.0L293.2 591.9L290.4 595.8L287.6 591.9Z" stroke="#0a720a" stroke-width="2.1" fill="#3a8a3a"/><path d="M342.2 588.0L345.0 591.9L342.2 595.8L339.4 591.9Z" stroke="#0a720a" stroke-width="2.1" fill="#3a8a3a"/><path d="M394.1 588.0L396.9 591.9L394.1 595.8L391.3 591.9Z" stroke="#0a720a" stroke-width="2.1" fill="#3a8a3a"/><path d="M445.9 588.0L448.7 591.9L445.9 595.8L443.1 591.9Z" stroke="#0a720a" stroke-width="2.1" fill="#3a8a3a"/><path d="M497.8 587.9L500.6 591.8L497.8 595.7L495.0 591.8Z" stroke="#0a720a" stroke-width="2.1" fill="#3a8a3a"/><path d="M549.6 437.1L552.4 441.0L549.6 444.9L546.8 441.0Z" stroke="#0a720a" stroke-width="2.1" fill="#3a8a3a"/><path d="M601.5 276.6L604.3 280.5L601.5 284.4L598.7 280.5Z" stroke="#0a720a" stroke-width="2.1" fill="#3a8a3a"/><path d="M653.3 254.4L656.1 258.3L653.3 262.2L650.5 258.3Z" stroke="#0a720a" stroke-width="2.1" fill="#3a8a3a"/><path d="M705.2 206.0L708.0 209.9L705.2 213.8L702.4 209.9Z" stroke="#0a720a" stroke-width="2.1" fill="#3a8a3a"/><path d="M757.0 114.1L759.8 118.0L757.0 121.9L754.2 118.0Z" stroke="#0a720a" stroke-width="2.1" fill="#3a8a3a"/><polyline points="113.3,591.9 165.1,591.9 217.0,591.9 268.8,591.4 320.7,589.9 372.5,522.3 424.4,447.2 476.2,380.4 528.1,319.2 579.9,266.9 631.8,223.4 683.6,188.3 735.5,161.9 787.3,144.5 839.2,133.4" fill="none" stroke="#e01b1b" stroke-width="2.0" stroke-linejoin="round" clip-path="url(#ax)"/><rect x="110.9" y="589.5" width="4.7" height="4.7" stroke="#e01b1b" stroke-width="1.4" fill="none"/><rect x="162.8" y="589.5" width="4.7" height="4.7" stroke="#e01b1b" stroke-width="1.4" fill="none"/><rect x="214.6" y="589.5" width="4.7" height="4.7" stroke="#e01b1b" stroke-width="1.4" fill="none"/><rect x="266.5" y="589.0" width="4.7" height="4.7" stroke="#e01b1b" stroke-width="1.4" fill="none"/><rect x="318.3" y="587.5" width="4.7" height="4.7" stroke="#e01b1b" stroke-width="1.4" fill="none"/><rect x="370.2" y="519.9" width="4.7" height="4.7" stroke="#e01b1b" stroke-width="1.4" fill="none"/><rect x="422.0" y="444.8" width="4.7" height="4.7" stroke="#e01b1b" stroke-width="1.4" fill="none"/><rect x="473.9" y="378.0" width="4.7" height="4.7" stroke="#e01b1b" stroke-width="1.4" fill="none"/><rect x="525.7" y="316.8" width="4.7" height="4.7" stroke="#e01b1b" stroke-width="1.4" fill="none"/><rect x="577.6" y="264.5" width="4.7" height="4.7" stroke="#e01b1b" stroke-width="1.4" fill="none"/><rect x="629.4" y="221.1" width="4.7" height="4.7" stroke="#e01b1b" stroke-width="1.4" fill="none"/><rect x="681.3" y="186.0" width="4.7" height="4.7" stroke="#e01b1b" stroke-width="1.4" fill="none"/><rect x="733.1" y="159.6" width="4.7" height="4.7" stroke="#e01b1b" stroke-width="1.4" fill="none"/><rect x="785.0" y="142.2" width="4.7" height="4.7" stroke="#e01b1b" stroke-width="1.4" fill="none"/><rect x="836.8" y="131.1" width="4.7" height="4.7" stroke="#e01b1b" stroke-width="1.4" fill="none"/><polyline points="113.3,591.9 165.1,591.9 217.0,591.9 268.8,591.9 320.7,591.9 372.5,591.9 424.4,591.9 476.2,591.9 528.1,591.9 579.9,550.0 631.8,442.2 683.6,331.4 735.5,219.4 787.3,157.0 839.2,130.6" fill="none" stroke="#98dcf0" stroke-width="3.5" stroke-linejoin="round" clip-path="url(#ax)"/></g>
<g></g>
<rect x="102.3" y="38.0" width="97.0" height="270.1" fill="#fff" stroke="#262626" stroke-width="1.6"/><line x1="105.5" y1="48.9" x2="138.0" y2="48.9" stroke="#e800e8" stroke-width="2.0" stroke-dasharray="2 2.5"/><circle cx="121.8" cy="48.9" r="3.0" fill="none" stroke="#e800e8" stroke-width="1.8"/><text x="141.3" y="55.0" class="lg">CNe</text><line x1="105.5" y1="68.0" x2="138.0" y2="68.0" stroke="#787878" stroke-width="5.2" stroke-dasharray="5.2 5.4"/><text x="141.3" y="74.1" class="lg">CpC</text><line x1="105.5" y1="87.1" x2="138.0" y2="87.1" stroke="#4aa2f2" stroke-width="2.7"/><path d="M118.6 83.9L125.0 90.3M118.6 90.3L125.0 83.9" stroke="#4aa2f2" stroke-width="3" fill="none"/><text x="141.3" y="93.2" class="lg">LNe</text><line x1="105.5" y1="106.2" x2="138.0" y2="106.2" stroke="#e59b2d" stroke-width="2.7"/><circle cx="121.8" cy="106.2" r="3.9" fill="#e59b2d" stroke="#e59b2d" stroke-width="1.5"/><text x="141.3" y="112.3" class="lg">LNe3</text><line x1="105.5" y1="125.3" x2="138.0" y2="125.3" stroke="#a03030" stroke-width="1.4"/><path d="M121.8 120.3L125.5 125.3L121.8 130.3L118.1 125.3Z" stroke="#a03030" stroke-width="1.3" fill="none"/><text x="141.3" y="131.4" class="lg">CLL</text><line x1="105.5" y1="144.4" x2="138.0" y2="144.4" stroke="#000000" stroke-width="1.6" stroke-dasharray="4.2 2 2.6 2"/><path d="M117.20 141.75L126.40 141.75L121.80 149.70Z" stroke="#000000" stroke-width="1.5" fill="none" stroke-linejoin="miter"/><text x="141.3" y="150.5" class="lg">LH-CNe</text><line x1="105.5" y1="163.5" x2="138.0" y2="163.5" stroke="#22cc22" stroke-width="1.5"/><path d="M121.80 157.20L123.21 161.55L127.79 161.55L124.09 164.24L125.50 168.60L121.80 165.91L118.10 168.60L119.51 164.24L115.81 161.55L120.39 161.55Z" stroke="#22cc22" stroke-width="1.5" fill="#6ede6e" stroke-linejoin="miter"/><text x="141.3" y="169.6" class="lg">LH</text><line x1="105.5" y1="182.6" x2="138.0" y2="182.6" stroke="#dcb42c" stroke-width="3.7" stroke-dasharray="3.7 3.8"/><rect x="117.6" y="178.4" width="8.4" height="8.4" stroke="#dcb42c" stroke-width="2.8" fill="none"/><text x="141.3" y="188.7" class="lg">OOEH</text><line x1="105.5" y1="201.7" x2="138.0" y2="201.7" stroke="#1010d0" stroke-width="1.8" stroke-dasharray="4 1.8 2.2 1.8"/><path d="M121.80 197.10L122.83 200.28L126.17 200.28L123.47 202.24L124.50 205.42L121.80 203.46L119.10 205.42L120.13 202.24L117.43 200.28L120.77 200.28Z" stroke="#1010d0" stroke-width="1" fill="#1010d0" stroke-linejoin="miter"/><text x="141.3" y="207.8" class="lg">RH</text><line x1="105.5" y1="220.8" x2="138.0" y2="220.8" stroke="#5c1212" stroke-width="3.2" stroke-dasharray="10 3 4.5 3"/><rect x="119.4" y="218.4" width="4.8" height="4.8" stroke="#5c1212" stroke-width="1.2" fill="#5c1212"/><text x="141.3" y="226.9" class="lg">SH</text><line x1="105.5" y1="239.9" x2="138.0" y2="239.9" stroke="#0a720a" stroke-width="2.5" stroke-dasharray="6.5 2.5 3 2.5"/><path d="M121.8 234.9L125.8 239.9L121.8 244.9L117.8 239.9Z" stroke="#0a720a" stroke-width="2.4" fill="none"/><text x="141.3" y="246.0" class="lg">ASH</text><line x1="105.5" y1="259.0" x2="138.0" y2="259.0" stroke="#e01b1b" stroke-width="2.0"/><rect x="119.5" y="256.6" width="4.7" height="4.7" stroke="#e01b1b" stroke-width="1.4" fill="none"/><text x="141.3" y="265.1" class="lg">PI</text><line x1="105.5" y1="278.1" x2="138.0" y2="278.1" stroke="#98dcf0" stroke-width="3.2"/><text x="141.3" y="284.2" class="lg">DF</text><line x1="105.5" y1="297.2" x2="138.0" y2="297.2" stroke="#c01414" stroke-width="3"/><path d="M116.4 287.9L130.8 297.2L116.4 306.5Z" stroke="#c01414" stroke-width="3" fill="none"/><text x="141.3" y="303.3" class="lg">RK4</text>
<text x="214.90" y="644.00" class="tk">10</text><rect x="213.90" y="641.40" width="5.57" height="3.80" fill="#fff"/><rect x="222.17" y="641.40" width="3.93" height="3.80" fill="#fff"/><text x="236.71" y="634.20" class="sup">-5</text><text x="386.98" y="644.00" class="tk">10</text><rect x="385.98" y="641.40" width="5.57" height="3.80" fill="#fff"/><rect x="394.24" y="641.40" width="3.93" height="3.80" fill="#fff"/><text x="408.78" y="634.20" class="sup">-4</text><text x="559.47" y="644.00" class="tk">10</text><rect x="558.47" y="641.40" width="5.57" height="3.80" fill="#fff"/><rect x="566.73" y="641.40" width="3.93" height="3.80" fill="#fff"/><text x="581.27" y="634.20" class="sup">-3</text><text x="731.75" y="644.00" class="tk">10</text><rect x="730.75" y="641.40" width="5.57" height="3.80" fill="#fff"/><rect x="739.01" y="641.40" width="3.93" height="3.80" fill="#fff"/><text x="753.55" y="634.20" class="sup">-2</text><text x="42.41" y="40.75" class="tk">10</text><rect x="41.41" y="38.15" width="5.57" height="3.80" fill="#fff"/><rect x="49.68" y="38.15" width="3.93" height="3.80" fill="#fff"/><text x="64.22" y="31.30" class="sup">0</text><text x="38.59" y="213.47" class="tk">10</text><rect x="37.59" y="210.87" width="5.57" height="3.80" fill="#fff"/><rect x="45.86" y="210.87" width="3.93" height="3.80" fill="#fff"/><text x="60.39" y="204.02" class="sup">-1</text><rect x="64.56" y="201.84" width="4.62" height="3.38" fill="#fff"/><rect x="71.30" y="201.84" width="3.11" height="3.38" fill="#fff"/><text x="36.94" y="386.19" class="tk">10</text><rect x="35.94" y="383.59" width="5.57" height="3.80" fill="#fff"/><rect x="44.20" y="383.59" width="3.93" height="3.80" fill="#fff"/><text x="58.74" y="376.74" class="sup">-2</text><text x="37.38" y="558.91" class="tk">10</text><rect x="36.38" y="556.31" width="5.57" height="3.80" fill="#fff"/><rect x="44.64" y="556.31" width="3.93" height="3.80" fill="#fff"/><text x="59.18" y="549.46" class="sup">-3</text><g transform="translate(322.4,670.8) scale(1,1.045)"><text x="0" y="0" class="al">Effective time step size h</text></g><g transform="translate(576.4,680.6) scale(1.07,1)"><text x="0" y="0" class="sub">eff</text></g><g transform="translate(29.6,312.9) rotate(-90) scale(1,1.045)"><text x="0" y="0" class="al" text-anchor="middle">Errors</text></g>
</svg>
</body></html>
